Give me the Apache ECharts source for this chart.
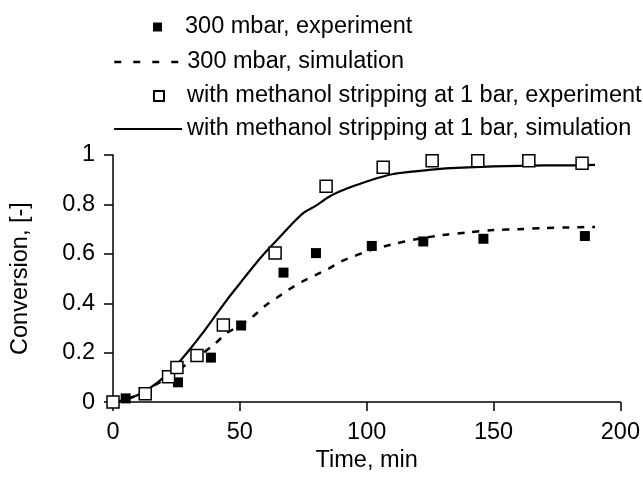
<!DOCTYPE html>
<html>
<head>
<meta charset="utf-8">
<script src="https://cdn.jsdelivr.net/npm/echarts@6/dist/echarts.min.js"></script>
<style>
    html, body { margin: 0; padding: 0; background: #ffffff; }
    #main { width: 643px; height: 478px; }
</style>
</head>
<body>
<div id="main"></div>
<script>
    // 数据
    var expLowX = [5, 25.6, 38.6, 50.5, 67.2, 80, 102, 122.3, 146, 186];
    var expLowY = [0.015, 0.08, 0.18, 0.31, 0.524, 0.603, 0.632, 0.65, 0.661, 0.672];

    var expHighX = [0, 12.7, 21.9, 25.2, 33.1, 43.5, 63.9, 84, 106.5, 125.8, 143.8, 163.9, 184.9];
    var expHighY = [0, 0.034, 0.103, 0.14, 0.189, 0.312, 0.603, 0.874, 0.95, 0.977, 0.977, 0.977, 0.967];

    var simX = [0, 5, 10, 15, 20, 25, 30, 35, 40, 45, 50, 55, 60, 65, 70, 75, 80, 85, 90, 95, 100, 110, 120, 130, 140, 150, 160, 170, 180, 190];
    var simLowY = [0, 0.012, 0.03, 0.06, 0.09, 0.125, 0.16, 0.195, 0.235, 0.28, 0.31, 0.345, 0.39, 0.425, 0.46, 0.49, 0.515, 0.54, 0.57, 0.59, 0.61, 0.638, 0.66, 0.676, 0.687, 0.696, 0.70, 0.704, 0.707, 0.709];
    var simHighY = [0, 0.01, 0.03, 0.06, 0.10, 0.15, 0.21, 0.275, 0.345, 0.415, 0.48, 0.545, 0.605, 0.66, 0.715, 0.765, 0.795, 0.83, 0.855, 0.875, 0.893, 0.922, 0.935, 0.945, 0.95, 0.954, 0.956, 0.958, 0.958, 0.96];

    var names = [
        '300 mbar, experiment',
        '300 mbar, simulation',
        'with methanol stripping at 1 bar, experiment',
        'with methanol stripping at 1 bar, simulation'
    ];

    function pairs(xs, ys) {
        var out = [];
        for (var i = 0; i < xs.length; i++) out.push([xs[i], ys[i]]);
        return out;
    }

    var font = 'Liberation Sans, Arial, sans-serif';
    var txt = { fontFamily: font, fontSize: 23.5, color: '#000' };
    var txtPad = { fontFamily: font, fontSize: 23.5, color: '#000', padding: [0, 0, 0, 18] };
    var noDot = { color: 'rgba(0,0,0,0)', borderColor: 'rgba(0,0,0,0)', borderWidth: 0 };

    var myChart = echarts.init(document.getElementById('main'));

    var option = {
        animation: false,
        backgroundColor: '#fff',
        textStyle: { fontFamily: font },
        legend: [
            { data: [names[0]], left: 148, top: 10, itemWidth: 9, itemHeight: 9, textStyle: txtPad, selectedMode: false },
            { data: [names[1]], left: 108, top: 45, itemWidth: 68, itemHeight: 14, textStyle: txt, itemStyle: noDot,
              lineStyle: { type: [7, 12], width: 2.5, color: '#000' }, selectedMode: false },
            { data: [names[2]], left: 148, top: 79, itemWidth: 10, itemHeight: 10, textStyle: txtPad, selectedMode: false },
            { data: [names[3]], left: 108, top: 112, itemWidth: 68, itemHeight: 14, textStyle: txt, itemStyle: noDot,
              lineStyle: { width: 2.2, color: '#000' }, selectedMode: false }
        ],
        grid: { left: 113, right: 22, top: 155, bottom: 71 },
        xAxis: {
            type: 'value', min: 0, max: 200, interval: 50,
            name: 'Time, min', nameLocation: 'middle', nameGap: 45, nameTextStyle: txt,
            axisLine: { lineStyle: { color: '#000', width: 1.5 } },
            axisTick: { length: 9, lineStyle: { color: '#000', width: 1.5 } },
            axisLabel: Object.assign({ margin: 18 }, txt),
            splitLine: { show: false }
        },
        yAxis: {
            type: 'value', min: 0, max: 1, interval: 0.2,
            name: 'Conversion, [-]', nameLocation: 'middle', nameGap: 80, nameTextStyle: txt,
            axisLine: { show: true, lineStyle: { color: '#000', width: 1.5 } },
            axisTick: { show: true, length: 9, lineStyle: { color: '#000', width: 1.5 } },
            axisLabel: Object.assign({ margin: 18 }, txt),
            splitLine: { show: false }
        },
        series: [
            {
                name: names[0], type: 'scatter', symbol: 'rect', symbolSize: 10,
                itemStyle: { color: '#000', opacity: 1 },
                data: pairs(expLowX, expLowY), z: 4
            },
            {
                name: names[1], type: 'line', symbol: 'none', smooth: 0.3,
                lineStyle: { color: '#000', width: 2.5, type: [7, 8] },
                itemStyle: { color: '#000' },
                data: pairs(simX, simLowY), z: 2
            },
            {
                name: names[2], type: 'scatter', symbol: 'rect', symbolSize: 12,
                itemStyle: { color: '#fff', borderColor: '#000', borderWidth: 1.5, opacity: 1 },
                data: pairs(expHighX, expHighY), z: 5
            },
            {
                name: names[3], type: 'line', symbol: 'none', smooth: 0.3,
                lineStyle: { color: '#000', width: 2.2 },
                itemStyle: { color: '#000' },
                data: pairs(simX, simHighY), z: 3
            }
        ]
    };

    myChart.setOption(option);
</script>
</body>
</html>
